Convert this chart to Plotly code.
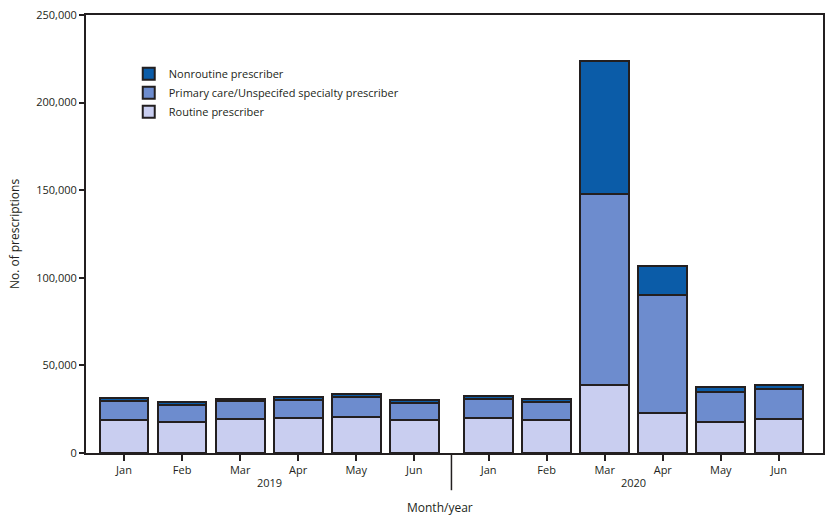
import plotly.graph_objects as go

# prescriptions by prescriber type, Jan-Jun 2019 and Jan-Jun 2020
months = ["Jan", "Feb", "Mar", "Apr", "May", "Jun"]
years = ["2019", "2020"]

routine_2019 = [19000, 17900, 19500, 20200, 20800, 18700]
primary_2019 = [10900, 9600, 10100, 10300, 11200, 9700]
nonroutine_2019 = [1400, 1500, 1300, 1400, 1800, 1700]

routine_2020 = [19800, 18700, 38700, 22700, 17500, 19500]
primary_2020 = [11100, 10500, 109100, 67300, 17600, 17300]
nonroutine_2020 = [1700, 1500, 75700, 16600, 2500, 1900]

routine = routine_2019 + routine_2020
primary = primary_2019 + primary_2020
nonroutine = nonroutine_2019 + nonroutine_2020

# x positions: a small gap between the two years
gap = 0.28
xpos = [i for i in range(6)] + [6 + gap + i for i in range(6)]
labels = months + months

ink = "#231f20"
font = "Open Sans, Noto Sans, sans-serif"

fig = go.Figure()
for name, vals, col in [
    ("Routine prescriber", routine, "#c9cef0"),
    ("Primary care/Unspecifed specialty prescriber", primary, "#6d8cce"),
    ("Nonroutine prescriber", nonroutine, "#0b5ca8"),
]:
    fig.add_trace(go.Bar(x=xpos, y=vals, name=name, width=0.84,
                         marker=dict(color=col, line=dict(color=ink, width=2))))

fig.update_layout(
    barmode="stack",
    width=832, height=521,
    margin=dict(l=86, r=9, t=15, b=68),
    plot_bgcolor="white", paper_bgcolor="white",
    font=dict(family=font, size=11, color=ink),
    showlegend=True,
    legend=dict(x=0.058, y=0.899, xanchor="left", yanchor="top",
                traceorder="reversed", font=dict(size=11),
                bgcolor="rgba(0,0,0,0)", itemwidth=30, tracegroupgap=0),
    xaxis=dict(range=[-0.655, 12.04], tickvals=xpos, ticktext=labels,
               ticks="outside", ticklen=6, tickwidth=1.5, tickcolor=ink,
               showline=True, linecolor=ink, linewidth=2, mirror=True,
               showgrid=False, zeroline=False, automargin=False),
    yaxis=dict(range=[0, 250000], tickvals=[0, 50000, 100000, 150000, 200000, 250000],
               tickformat=",", ticks="outside", ticklen=5, tickwidth=1.5, tickcolor=ink,
               showline=True, linecolor=ink, linewidth=2, mirror=True,
               showgrid=False, zeroline=False, automargin=False,
               title=dict(text="No. of prescriptions", font=dict(size=12), standoff=14)),
)

# divider between the years
fig.add_shape(type="line", xref="x", yref="paper",
              x0=5 + (1 + gap) / 2, x1=5 + (1 + gap) / 2, y0=0, y1=-0.085,
              line=dict(color=ink, width=1.5))

for k, yr in enumerate(years):
    fig.add_annotation(x=sum(xpos[k * 6:(k + 1) * 6]) / 6, y=-0.068, xref="x", yref="paper",
                       text=yr, showarrow=False, yanchor="middle", font=dict(size=11))

fig.add_annotation(x=0.48, y=-0.125, xref="paper", yref="paper", text="Month/year",
                   showarrow=False, yanchor="middle", font=dict(size=12))

# the page's default body margin pushes the figure off by 8px
fig.write_html("out.html", config={"displayModeBar": False},
               post_script="document.body.style.margin='0';")
